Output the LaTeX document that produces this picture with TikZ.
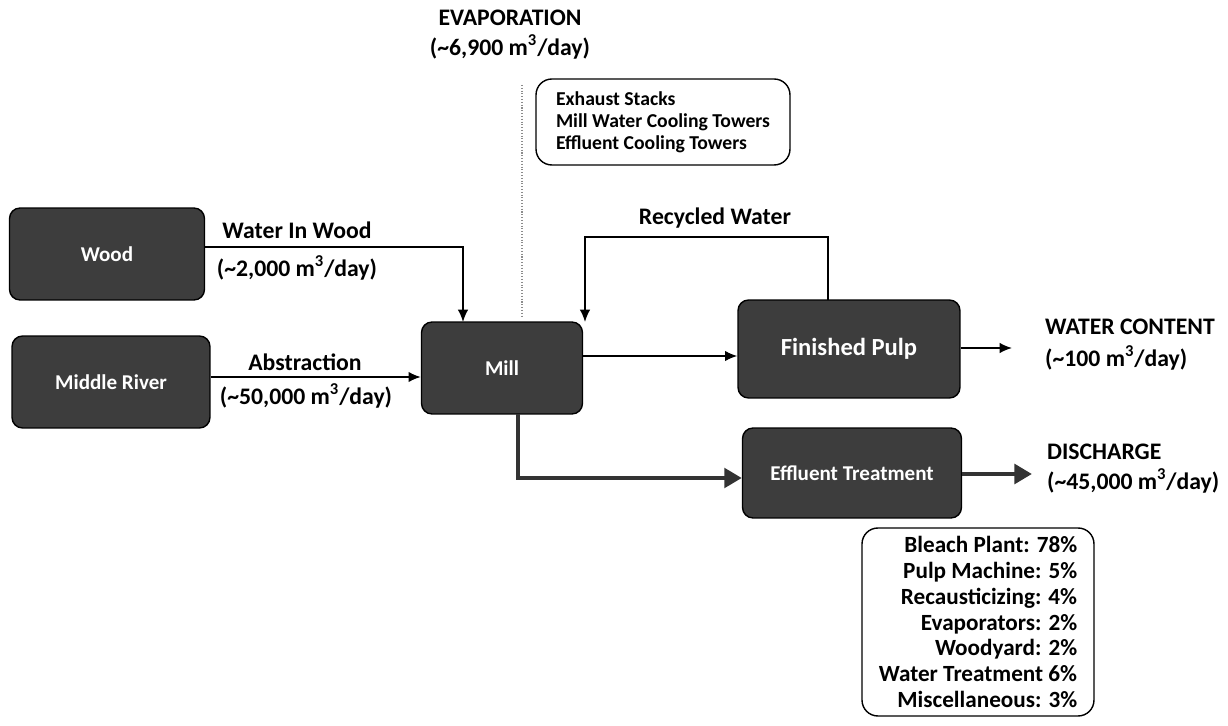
\documentclass[tikz,border=0pt]{standalone}
\usepackage{fontspec}
\setmainfont{Carlito}
\usetikzlibrary{arrows.meta}
\tikzset{
  unit/.style={rounded corners=6pt, draw=black, fill=black!76, text=white,
    font=\bfseries\large, line width=0.8pt},
  flow/.style={-{Latex[length=7pt,width=6pt]}, line width=1pt},
  bigflow/.style={-{Triangle[length=10pt,width=11pt]}, line width=2.6pt, black!80},
  lbl/.style={font=\bfseries\fontsize{13.5}{16}\selectfont, inner sep=1pt},
  listbox/.style={rounded corners=9pt, draw=black, line width=0.8pt, inner sep=4pt}
}
\begin{document}
\begin{tikzpicture}[x=0.02cm, y=-0.02cm]
  \useasboundingbox (0,0) rectangle (1228,726);
  % process units
  \node[unit, minimum width=3.9cm, minimum height=1.84cm] (wood) at (107,254) {Wood};
  \node[unit, minimum width=3.96cm, minimum height=1.84cm] (river) at (111,382) {Middle River};
  \node[unit, minimum width=3.22cm, minimum height=1.84cm] (mill) at (502,368) {Mill};
  \node[unit, minimum width=4.44cm, minimum height=1.96cm,
    font=\bfseries\fontsize{14}{17}\selectfont] (pulp) at (849,349) {Finished Pulp};
  \node[unit, minimum width=4.38cm, minimum height=1.8cm] (eff) at (852,473) {Effluent Treatment};
  % side notes
  \node[listbox, minimum width=5.08cm, minimum height=1.72cm, align=left,
    font=\bfseries\fontsize{11.2}{12.5}\selectfont] (evapbox) at (663,122)
    {Exhaust Stacks\\Mill Water Cooling Towers\\Effluent Cooling Towers};
  \node[listbox, minimum width=4.64cm, minimum height=3.76cm, align=right,
    font=\bfseries\fontsize{13.2}{14.7}\selectfont] (srcbox) at (978,622)
    {Bleach Plant: 78\%\\Pulp Machine: 5\%\\Recausticizing: 4\%\\Evaporators: 2\%\\
     Woodyard: 2\%\\Water Treatment 6\%\\Miscellaneous: 3\%};
  % flow end points
  \coordinate (woodin) at (463,322);
  \coordinate (recin) at (585,322);
  \coordinate (pulpout) at (828,300);
  \coordinate (millbot) at (518,414);
  \coordinate (wcout) at (1012,348);
  \coordinate (disout) at (1032,474);
  % flows
  \draw[flow] (wood.east |- 0,247) -| (woodin);
  \draw[flow] (river.east |- 0,377) -- (mill.west |- 0,377);
  \draw[flow] (pulpout) |- (585,237) -- (recin);
  \draw[flow] (mill.east |- 0,356) -- (pulp.west |- 0,356);
  \draw[bigflow] (millbot) |- (eff.west |- 0,478);
  \draw[flow] (pulp.east |- 0,348) -- (wcout);
  \draw[bigflow] (eff.east |- 0,474) -- (disout);
  \draw[black!45, densely dotted, line width=0.6pt] (522,85) -- (522,318);
  % labels
  \node[lbl] (evap) at (510,18) {EVAPORATION};
  \node[lbl] (evapq) at (510,47) {(\textasciitilde 6,900 m\textsuperscript{3}/day)};
  \node[lbl] (wiw) at (297,230) {Water In Wood};
  \node[lbl] (wiwq) at (297,268) {(\textasciitilde 2,000 m\textsuperscript{3}/day)};
  \node[lbl] (abs) at (305,362) {Abstraction};
  \node[lbl] (absq) at (306,396) {(\textasciitilde 50,000 m\textsuperscript{3}/day)};
  \node[lbl] (rec) at (715,218) {Recycled Water};
  \node[lbl, anchor=west] (wc) at (1043,327) {WATER CONTENT};
  \node[lbl, anchor=west] (wcq) at (1043,358) {(\textasciitilde 100 m\textsuperscript{3}/day)};
  \node[lbl, anchor=west] (dis) at (1045,452) {DISCHARGE};
  \node[lbl, anchor=west] (disq) at (1045,481) {(\textasciitilde 45,000 m\textsuperscript{3}/day)};
\end{tikzpicture}
\end{document}
